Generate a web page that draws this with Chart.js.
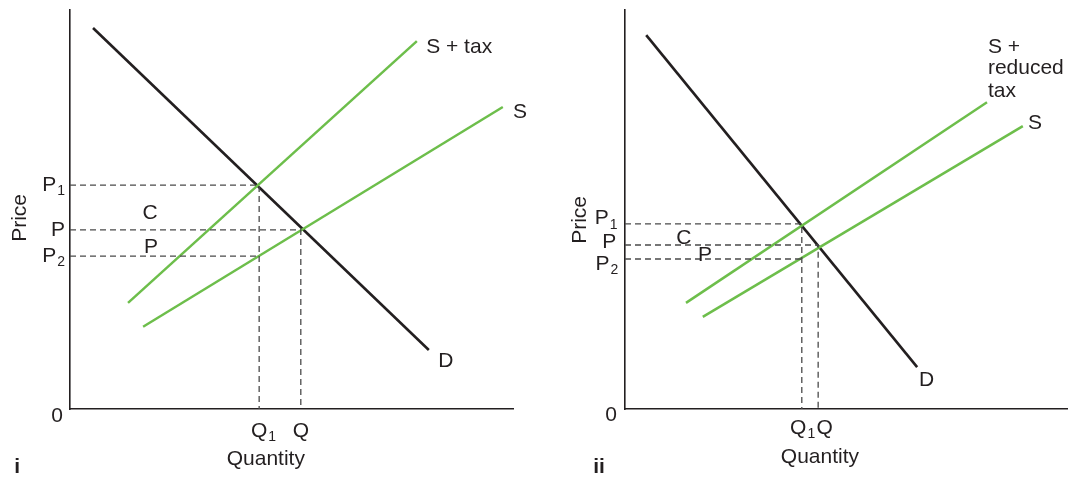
<!DOCTYPE html>
<html>
<head>
<meta charset="utf-8">
<script src="https://cdn.jsdelivr.net/npm/chart.js@4.4.1/dist/chart.umd.min.js"></script>
<style>
html, body { margin: 0; padding: 0; background: #fff; }
#lienzo { position: relative; width: 1073px; height: 477px; }
.panel { position: absolute; top: 0; height: 477px; }
</style>
</head>
<body>
<div id="lienzo">
  <div class="panel" style="left:0;width:560px"><canvas id="graf-i"></canvas></div>
  <div class="panel" style="left:560px;width:513px"><canvas id="graf-ii"></canvas></div>
</div>
<script>
// Panel i (cantidad y precio en escala 0-100)
const demandaI = [{x: 5.2, y: 95.5}, {x: 81.0, y: 14.8}];
const ofertaImpuestoI = [{x: 13.1, y: 26.6}, {x: 78.3, y: 92.2}];
const ofertaI = [{x: 16.5, y: 20.6}, {x: 97.7, y: 75.7}];
const preciosI = [56.1, 44.9, 38.3];   // P1, P, P2
const cantidadesI = [42.7, 52.1];      // Q1, Q

// Panel ii
const demandaII = [{x: 4.8, y: 93.7}, {x: 66.1, y: 10.5}];
const ofertaImpuestoII = [{x: 13.8, y: 26.6}, {x: 81.9, y: 76.9}];
const ofertaII = [{x: 17.6, y: 23.1}, {x: 90.0, y: 70.9}];
const preciosII = [46.4, 41.1, 37.6];  // P1, P, P2
const cantidadesII = [40.0, 43.7];     // Q1, Q

const VERDE = '#6dbe4b';
const NEGRO = '#231f20';
const GUIA = '#4a4a4a';
const FUENTE = '"Liberation Sans", Arial, sans-serif';

// Dibuja un texto con subíndice opcional
function dibujarEtiqueta(ctx, e, px, py) {
    const tam = 21, tamSub = 14;
    const peso = e.bold ? 'bold ' : '';
    ctx.font = `${peso}${tam}px ${FUENTE}`;
    const w1 = ctx.measureText(e.txt).width;
    ctx.font = `${tamSub}px ${FUENTE}`;
    const w2 = e.sub ? ctx.measureText(e.sub).width + 1 : 0;
    ctx.save();
    ctx.translate(px, py);
    if (e.rot) ctx.rotate(-Math.PI / 2);
    let x0 = 0;
    if (e.align === 'right') x0 = -(w1 + w2);
    else if (e.align === 'center') x0 = -w1 / 2;
    ctx.textBaseline = 'middle';
    ctx.textAlign = 'left';
    ctx.font = `${peso}${tam}px ${FUENTE}`;
    ctx.fillText(e.txt, x0, 0);
    if (e.sub) {
        ctx.font = `${tamSub}px ${FUENTE}`;
        ctx.fillText(e.sub, x0 + w1 + 1, 6);
    }
    ctx.restore();
}

const pluginTextos = {
    id: 'textos',
    afterDraw(chart, args, opts) {
        const {ctx, scales: {x, y}} = chart;
        ctx.save();
        ctx.fillStyle = NEGRO;
        opts.etiquetas.forEach(e => {
            dibujarEtiqueta(ctx, e, x.getPixelForValue(e.x), y.getPixelForValue(e.y));
        });
        ctx.restore();
    }
};

function guias(precios, cantidades) {
    const [p1, p, p2] = precios;
    const [q1, q] = cantidades;
    return [
        [{x: 0, y: p1}, {x: q1, y: p1}, {x: q1, y: 0}],
        [{x: 0, y: p}, {x: q, y: p}, {x: q, y: 0}],
        [{x: 0, y: p2}, {x: q1, y: p2}]
    ];
}

function linea(datos, color, ancho, guion) {
    return {
        data: datos,
        showLine: true,
        borderColor: color,
        borderWidth: ancho,
        borderDash: guion || [],
        pointRadius: 0,
        fill: false,
        tension: 0
    };
}

function crearGrafica(id, demanda, ofertaImp, oferta, precios, cantidades, padding, etiquetas) {
    const ctx = document.getElementById(id).getContext('2d');
    const datasets = guias(precios, cantidades).map(g => linea(g, GUIA, 1.3, [6, 4]));
    datasets.push(linea(ofertaImp, VERDE, 2.5));
    datasets.push(linea(oferta, VERDE, 2.5));
    datasets.push(linea(demanda, NEGRO, 2.6));
    return new Chart(ctx, {
        type: 'scatter',
        data: { datasets: datasets },
        options: {
            responsive: true,
            maintainAspectRatio: false,
            animation: false,
            layout: { padding: padding },
            plugins: {
                legend: { display: false },
                tooltip: { enabled: false },
                textos: { etiquetas: etiquetas }
            },
            scales: {
                x: {
                    type: 'linear', min: 0, max: 100,
                    grid: { display: false, drawTicks: false },
                    ticks: { display: false },
                    border: { display: true, color: NEGRO, width: 1.6 },
                    afterFit: s => { s.height = 0; }
                },
                y: {
                    type: 'linear', min: 0, max: 100,
                    grid: { display: false, drawTicks: false },
                    ticks: { display: false },
                    border: { display: true, color: NEGRO, width: 1.6 },
                    afterFit: s => { s.width = 0; }
                }
            }
        },
        plugins: [pluginTextos]
    });
}

const etiquetasI = [
    {txt: 'S + tax', x: 80.4, y: 90.7},
    {txt: 'S', x: 100.0, y: 74.4},
    {txt: 'D', x: 83.1, y: 12.0},
    {txt: 'C', x: 18.1, y: 49.1, align: 'center'},
    {txt: 'P', x: 18.3, y: 40.6, align: 'center'},
    {txt: 'P', sub: '1', x: -1.1, y: preciosI[0], align: 'right'},
    {txt: 'P', x: -1.1, y: preciosI[1], align: 'right'},
    {txt: 'P', sub: '2', x: -1.1, y: preciosI[2], align: 'right'},
    {txt: '0', x: -1.6, y: -1.8, align: 'right'},
    {txt: 'Q', sub: '1', x: cantidadesI[0], y: -5.5, align: 'center'},
    {txt: 'Q', x: cantidadesI[1], y: -5.5, align: 'center'},
    {txt: 'Quantity', x: 44.2, y: -12.5, align: 'center'},
    {txt: 'Price', x: -11.3, y: 47.9, align: 'center', rot: true},
    {txt: 'i', x: -12.6, y: -14.5, bold: true}
];

const etiquetasII = [
    {txt: 'S +', x: 82.1, y: 90.7},
    {txt: 'reduced', x: 82.1, y: 85.4},
    {txt: 'tax', x: 82.1, y: 79.7},
    {txt: 'S', x: 91.2, y: 71.7},
    {txt: 'D', x: 66.5, y: 7.3},
    {txt: 'C', x: 13.3, y: 42.9, align: 'center'},
    {txt: 'P', x: 18.1, y: 38.6, align: 'center'},
    {txt: 'P', sub: '1', x: -1.7, y: preciosII[0] + 1.3, align: 'right'},
    {txt: 'P', x: -2.0, y: preciosII[1] + 0.6, align: 'right'},
    {txt: 'P', sub: '2', x: -1.5, y: preciosII[2] - 1.4, align: 'right'},
    {txt: '0', x: -1.8, y: -1.6, align: 'right'},
    {txt: 'Q', sub: '1', x: 39.2, y: -4.8, align: 'center'},
    {txt: 'Q', x: 45.2, y: -4.8, align: 'center'},
    {txt: 'Quantity', x: 44.1, y: -12.0, align: 'center'},
    {txt: 'Price', x: -10.2, y: 47.4, align: 'center', rot: true},
    {txt: 'ii', x: -7.2, y: -14.5, bold: true}
];

crearGrafica('graf-i', demandaI, ofertaImpuestoI, ofertaI, preciosI, cantidadesI,
    {left: 70, top: 10, right: 47, bottom: 68}, etiquetasI);
crearGrafica('graf-ii', demandaII, ofertaImpuestoII, ofertaII, preciosII, cantidadesII,
    {left: 65, top: 10, right: 6, bottom: 68}, etiquetasII);
</script>
</body>
</html>
